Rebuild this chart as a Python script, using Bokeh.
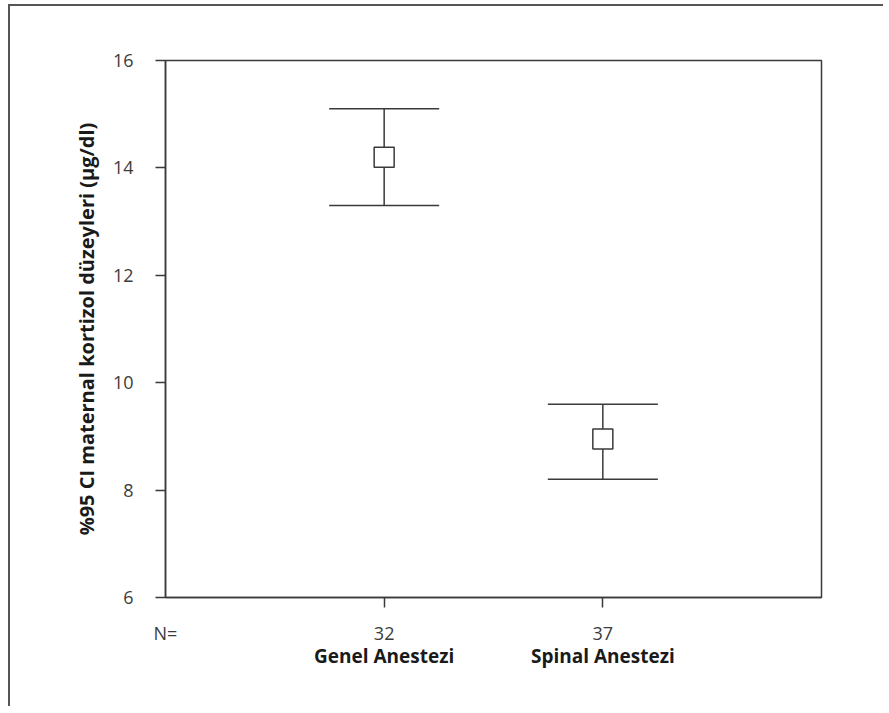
from bokeh.plotting import figure
from bokeh.models import ColumnDataSource, Whisker, TeeHead, LinearAxis, FixedTicker, Range1d
from bokeh.embed import file_html
from bokeh.resources import INLINE

# ---- data ----
groups = ["Genel Anestezi", "Spinal Anestezi"]
group_pos = [1, 2]
n_values = [32, 37]
n_label = "N="
n_label_pos = 0
means = [14.2, 8.95]
ci_lower = [13.3, 8.2]
ci_upper = [15.1, 9.6]
y_ticks = [6, 8, 10, 12, 14, 16]
y_label = "%95 CI maternal kortizol düzeyleri (µg/dl)"

FONT = "Open Sans"
LINE = "#3a3a3a"
TXT = "#3c3c3c"

src = ColumnDataSource(dict(x=group_pos, mean=means, lower=ci_lower, upper=ci_upper))

p = figure(width=875, height=702, output_backend="svg", toolbar_location=None,
           x_range=Range1d(0, 3), y_range=Range1d(6, 16),
           min_border_left=155, min_border_right=64, min_border_top=54, min_border_bottom=111)
p.styles = {"border-top": "2px solid #555555", "border-left": "2px solid #555555",
            "margin-left": "8px", "margin-top": "4px"}

p.xgrid.visible = False
p.ygrid.visible = False
p.outline_line_color = LINE
p.outline_line_width = 1.5
p.outline_line_alpha = 1
p.background_fill_color = "white"
p.border_fill_color = "white"

# y axis
ya = p.yaxis[0]
ya.ticker = FixedTicker(ticks=y_ticks)
ya.axis_label = y_label
ya.axis_label_text_font = FONT
ya.axis_label_text_font_style = "bold"
ya.axis_label_text_font_size = "20px"
ya.axis_label_text_color = "#1a1a1a"
ya.axis_label_standoff = 10
ya.major_label_text_font = FONT
ya.major_label_text_font_size = "18px"
ya.major_label_text_color = TXT
ya.major_label_standoff = 22
ya.major_tick_in = 0
ya.major_tick_out = 10
ya.minor_tick_line_color = None
ya.axis_line_color = LINE
ya.axis_line_width = 1.5
ya.major_tick_line_color = LINE
ya.major_tick_line_width = 1.5

# x axis A: tick marks only
xa = p.xaxis[0]
xa.ticker = FixedTicker(ticks=group_pos)
xa.major_label_overrides = {pos: "" for pos in group_pos}
xa.major_label_text_font_size = "0px"
xa.major_label_standoff = 0
xa.major_tick_in = 0
xa.major_tick_out = 10
xa.minor_tick_line_color = None
xa.axis_line_color = LINE
xa.axis_line_width = 1.5
xa.major_tick_line_color = LINE
xa.major_tick_line_width = 1.5

# x axis B: N values
n_ticks = [n_label_pos] + group_pos
n_texts = [n_label] + [str(n) for n in n_values]
xb = LinearAxis(ticker=FixedTicker(ticks=n_ticks),
                major_label_overrides={t: s for t, s in zip(n_ticks, n_texts)})
xb.major_label_text_font = FONT
xb.major_label_text_font_size = "18px"
xb.major_label_text_color = TXT
xb.major_label_standoff = 13
xb.major_tick_in = 0
xb.major_tick_out = 0
xb.major_tick_line_color = None
xb.minor_tick_line_color = None
xb.axis_line_color = None
p.add_layout(xb, "below")

# x axis C: group names
xc = LinearAxis(ticker=FixedTicker(ticks=group_pos),
                major_label_overrides={pos: g for pos, g in zip(group_pos, groups)})
xc.major_label_text_font = FONT
xc.major_label_text_font_size = "19px"
xc.major_label_text_font_style = "bold"
xc.major_label_text_color = "#1a1a1a"
xc.major_label_standoff = -5
xc.major_tick_in = 0
xc.major_tick_out = 0
xc.major_tick_line_color = None
xc.minor_tick_line_color = None
xc.axis_line_color = None
p.add_layout(xc, "below")

# error bars
wh = Whisker(base="x", lower="lower", upper="upper", source=src, dimension="height",
             line_color=LINE, line_width=1.5, level="underlay",
             upper_head=TeeHead(size=110, line_color=LINE, line_width=1.5),
             lower_head=TeeHead(size=110, line_color=LINE, line_width=1.5))
p.add_layout(wh)

p.scatter(x="x", y="mean", source=src, marker="square", size=20,
          fill_color="white", line_color=LINE, line_width=1.5)

open("out.html", "w").write(file_html(p, INLINE))
